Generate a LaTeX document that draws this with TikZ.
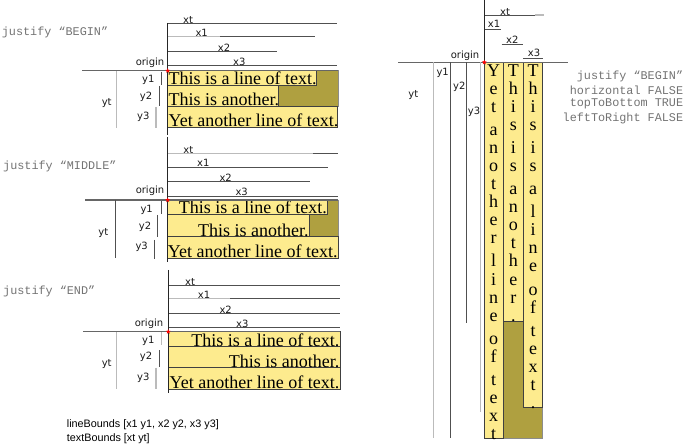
\documentclass[tikz,border=0pt]{standalone}
\usepackage{fontspec}
\usetikzlibrary{shapes.geometric}
\setmainfont{Liberation Serif}
\newfontfamily\lblfont{DejaVu Sans}
\newfontfamily\monofont{Liberation Mono}
\newfontfamily\btmfont{Liberation Sans}
\definecolor{yel}{HTML}{FDEB8E}
\definecolor{oliv}{HTML}{AFA040}
\definecolor{darkln}{HTML}{505050}
\definecolor{lightln}{HTML}{BBBBBB}
\tikzset{
  lbl/.style={font=\lblfont\fontsize{10}{12}\selectfont, inner sep=0pt, text=black!90},
  mono/.style={font=\monofont\fontsize{11.8}{13}\selectfont, inner sep=0pt, text=black!55},
  btm/.style={font=\btmfont\fontsize{10.8}{12}\selectfont, inner sep=0pt, anchor=west},
  serif/.style={font=\fontsize{18}{20}\selectfont, inner sep=0pt},
  vchar/.style={font=\fontsize{18}{20}\selectfont, inner sep=0pt, anchor=base},
  axisln/.style={draw=black!85, line width=0.9pt},
  baseln/.style={draw=black!60, line width=1.4pt},
  dln/.style={draw=darkln, line width=0.9pt},
  lln/.style={draw=lightln, line width=1.4pt},
  linebox/.style={fill=yel, draw=black!75, line width=0.9pt},
  olivebox/.style={fill=oliv, draw=black!45, line width=0.9pt},
  orig/.style={star, star points=5, star point ratio=2.3, fill=red, inner sep=0pt, minimum size=5pt}
}
\begin{document}
\begin{tikzpicture}[x=1pt,y=-1pt]
\useasboundingbox (0,0) rectangle (685,446);

% ================= Panel 1: BEGIN =================
\node[mono, anchor=west] (j1) at (1.7,32.3) {justify “BEGIN”};
\draw[dln] (167.7,23.3) -- (336.7,23.3);
\draw[dln] (167.7,36.7) -- (315,36.7);
\draw[lln] (167.7,36.7) -- (220,36.7);
\draw[dln] (167.7,51.7) -- (276.7,51.7);
\draw[dln] (167.7,65.3) -- (336.7,65.3);
\node[lbl] (p1xt) at (188,19.5) {xt};
\node[lbl] (p1x1) at (201.7,32.7) {x1};
\node[lbl] (p1x2) at (224,47.7) {x2};
\node[lbl] (p1x3) at (239.3,61.7) {x3};
\node[lbl] (p1o) at (150,62.3) {origin};
\draw[olivebox] (167.7,70.7) rectangle (338,106);
\draw[linebox] (167.7,70.7) rectangle (316.7,85);
\draw[linebox] (167.7,85) rectangle (278.3,106);
\draw[linebox] (167.7,106) rectangle (337.7,127.7);
\node[serif, anchor=base west] (p1t1) at (168.5,84.3) {This is a line of text.};
\node[serif, anchor=base west] (p1t2) at (168.5,105.3) {This is another.};
\node[serif, anchor=base west] (p1t3) at (168.5,127) {Yet another line of text.};
\draw[baseln] (82,70.7) -- (338,70.7);
\draw[axisln] (167.7,23) -- (167.7,135);
\draw[dln] (161.7,71.7) -- (161.7,85);
\draw[dln] (159.3,86) -- (159.3,106);
\draw[lln] (156,107) -- (156,127.7);
\draw[lln] (116.7,71) -- (116.7,128);
\node[lbl] (p1y1) at (148.3,80) {y1};
\node[lbl] (p1y2) at (146,96.7) {y2};
\node[lbl] (p1y3) at (143.3,117.3) {y3};
\node[lbl] (p1yt) at (106.7,103.3) {yt};
\node[orig] (p1star) at (167.7,70.7) {};

% ================= Panel 2: MIDDLE =================
\node[mono, anchor=west] (j2) at (3,166) {justify “MIDDLE”};
\draw[dln] (167.7,153.3) -- (338,153.3);
\draw[lln] (167.7,153.3) -- (313,153.3);
\draw[dln] (167.7,167.3) -- (328.3,167.3);
\draw[dln] (167.7,181.7) -- (310,181.7);
\draw[dln] (167.7,196) -- (338,196);
\node[lbl] (p2xt) at (188.3,150) {xt};
\node[lbl] (p2x1) at (203.3,163.3) {x1};
\node[lbl] (p2x2) at (225.7,177.3) {x2};
\node[lbl] (p2x3) at (241.7,191.7) {x3};
\node[lbl] (p2o) at (150,191) {origin};
\draw[olivebox] (167.7,200) rectangle (338,236.7);
\draw[linebox] (167.7,200) rectangle (327.3,214.3);
\draw[linebox] (167.7,214.3) rectangle (309,236.7);
\draw[linebox] (167.7,236.7) rectangle (338,258.3);
\node[serif, anchor=base east] (p2t1) at (327,213.8) {This is a line of text.};
\node[serif, anchor=base east] (p2t2) at (308.7,236.2) {This is another.};
\node[serif, anchor=base east] (p2t3) at (337.7,257.8) {Yet another line of text.};
\draw[baseln] (85,200) -- (338,200);
\draw[axisln] (167.7,137) -- (167.7,262);
\draw[dln] (161,201) -- (161,214.3);
\draw[dln] (157.7,215) -- (157.7,236.7);
\draw[dln] (154,240) -- (154,259);
\draw[dln] (115,200) -- (115,258.3);
\node[lbl] (p2y1) at (146.7,210) {y1};
\node[lbl] (p2y2) at (145,226.7) {y2};
\node[lbl] (p2y3) at (141.7,247.3) {y3};
\node[lbl] (p2yt) at (103.3,233.3) {yt};
\node[orig] (p2star) at (167.7,200) {};

% ================= Panel 3: END =================
\node[mono, anchor=west] (j3) at (3,291.7) {justify “END”};
\draw[dln] (168.3,285.7) -- (340,285.7);
\draw[dln] (168.3,298.3) -- (340,298.3);
\draw[lln] (168.3,298.3) -- (230,298.3);
\draw[dln] (168.3,313.3) -- (340,313.3);
\draw[dln] (168.3,327.3) -- (340,327.3);
\node[lbl] (p3xt) at (190,281.7) {xt};
\node[lbl] (p3x1) at (204,295) {x1};
\node[lbl] (p3x2) at (225.7,309.3) {x2};
\node[lbl] (p3x3) at (242.3,324) {x3};
\node[lbl] (p3o) at (149,324) {origin};
\draw[linebox] (168.3,331.7) rectangle (340,346.7);
\draw[linebox] (168.3,346.7) rectangle (340,367.7);
\draw[linebox] (168.3,367.7) rectangle (340,389);
\node[serif, anchor=base east] (p3t1) at (339.5,346.2) {This is a line of text.};
\node[serif, anchor=base east] (p3t2) at (339.5,367.2) {This is another.};
\node[serif, anchor=base east] (p3t3) at (339.5,388.5) {Yet another line of text.};
\draw[baseln] (83.3,331.7) -- (340,331.7);
\draw[axisln] (168.3,270) -- (168.3,393.3);
\draw[lln] (161.7,332) -- (161.7,345);
\draw[dln] (159.3,350) -- (159.3,366.7);
\draw[lln] (156,367.7) -- (156,389);
\draw[lln] (116.7,332) -- (116.7,389);
\node[lbl] (p3y1) at (148.3,341) {y1};
\node[lbl] (p3y2) at (146,356.7) {y2};
\node[lbl] (p3y3) at (143.3,378.3) {y3};
\node[lbl] (p3yt) at (106.7,364.3) {yt};
\node[orig] (p3star) at (168.3,331.7) {};

% ================= Bottom legend =================
\node[btm] (lb) at (66.7,424.3) {lineBounds [x1 y1, x2 y2, x3 y3]};
\node[btm] (tb) at (66.7,438.3) {textBounds [xt yt]};

% ================= Panel 4: vertical =================
\draw[dln] (484.3,15) -- (535,15);
\draw[lln] (535,15) -- (544,15);
\draw[dln] (484.3,29.3) -- (501,29.3);
\draw[dln] (501.7,44) -- (523.3,44);
\draw[dln] (523.3,58.7) -- (543.3,58.7);
\node[lbl] (p4xt) at (505,11.7) {xt};
\node[lbl] (p4x1) at (494,24) {x1};
\node[lbl] (p4x2) at (512.3,39.3) {x2};
\node[lbl] (p4x3) at (534,53.3) {x3};
\node[lbl] (p4o) at (465,55.7) {origin};
\draw[olivebox] (484,62.3) rectangle (542.5,438.3);
\draw[linebox] (484,62.3) rectangle (503,438.3);
\draw[linebox] (503,62.3) rectangle (523.5,321.7);
\draw[linebox] (523.5,62.3) rectangle (542.5,407.3);
\foreach \c/\y [count=\i] in {Y/77,e/95,t/113,a/136,n/154,o/172,t/190,h/208,e/226,r/244,l/267,i/285,n/303,e/321,o/344,f/362,t/385,e/403,x/421,t/439}
  \node[vchar] (ca\i) at (493.5,\y) {\c};
\foreach \c/\y [count=\i] in {T/77,h/95,i/113,s/131,i/154,s/172,a/195,n/213,o/231,t/249,h/267,e/285,r/303,./321}
  \node[vchar] (cb\i) at (513.25,\y) {\c};
\foreach \c/\y [count=\i] in {T/77,h/95,i/113,s/131,i/154,s/172,a/195,l/218,i/236,n/254,e/272,o/295,f/313,t/336,e/354,x/372,t/390,./408}
  \node[vchar] (cc\i) at (533,\y) {\c};
\draw[baseln] (398.3,62.3) -- (568.3,62.3);
\draw[axisln] (484.3,0) -- (484.3,62.3);
\draw[lln] (433.3,62.3) -- (433.3,438.3);
\draw[dln] (450,62.3) -- (450,438.3);
\draw[dln] (466.7,62.3) -- (466.7,323.3);
\draw[lln] (480.7,62.3) -- (480.7,411.7);
\node[lbl] (p4y1) at (442.7,72.7) {y1};
\node[lbl] (p4y2) at (459.3,87.3) {y2};
\node[lbl] (p4y3) at (474,111.7) {y3};
\node[lbl] (p4yt) at (413.3,95) {yt};
\node[orig] (p4star) at (484.3,62.3) {};
\node[mono, anchor=east] (r1) at (683.3,76) {justify “BEGIN”};
\node[mono, anchor=east] (r2) at (683.3,90) {horizontal FALSE};
\node[mono, anchor=east] (r3) at (683.3,104) {topToBottom TRUE};
\node[mono, anchor=east] (r4) at (683.3,118.3) {leftToRight FALSE};
\end{tikzpicture}
\end{document}
